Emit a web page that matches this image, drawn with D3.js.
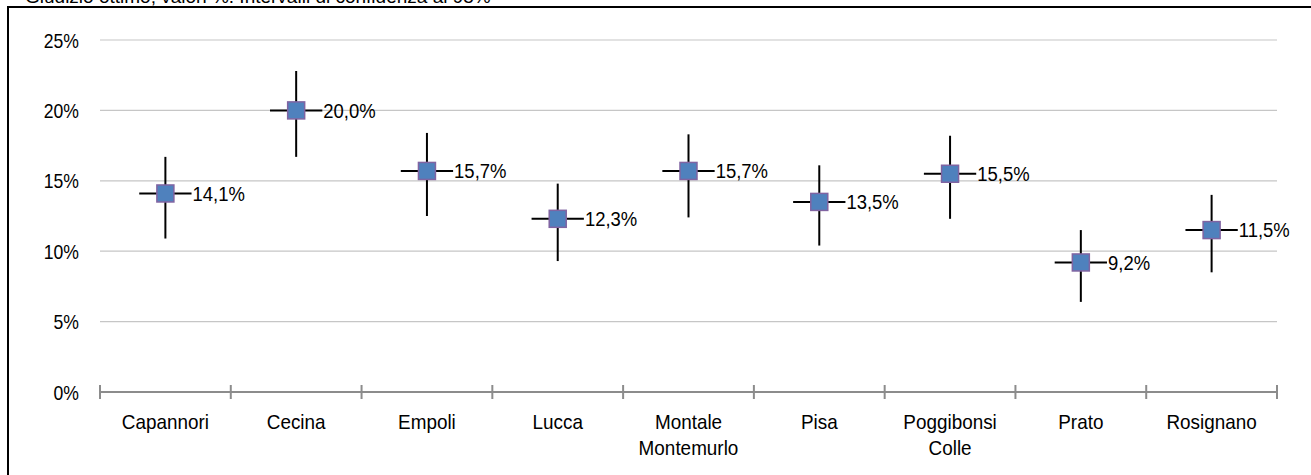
<!DOCTYPE html>
<html>
<head>
<meta charset="utf-8">
<script src="https://cdn.jsdelivr.net/npm/d3@7"></script>
<style>
  body { margin: 0; background: #fff; }
  svg { display: block; font-family: "Liberation Sans", Arial, sans-serif; }
</style>
</head>
<body>
<svg></svg>
<script>
const cities = ["Capannori", "Cecina", "Empoli", "Lucca", "Montale\nMontemurlo", "Pisa", "Poggibonsi\nColle", "Prato", "Rosignano"];
const values = [14.1, 20.0, 15.7, 12.3, 15.7, 13.5, 15.5, 9.2, 11.5];
const lower = [10.9, 16.7, 12.5, 9.3, 12.4, 10.4, 12.3, 6.4, 8.5];
const upper = [16.7, 22.8, 18.4, 14.8, 18.3, 16.1, 18.2, 11.5, 14.0];
const yTicks = [0, 5, 10, 15, 20, 25];
const title = "Giudizio ottimo; valori %. Intervalli di confidenza al 95%";

const width = 1311;
const height = 475;
const svg = d3.select("svg")
    .attr("width", width)
    .attr("height", height);

const margin = { top: 40, right: 34, bottom: 83, left: 100 };
const chartWidth = width - margin.left - margin.right;
const chartHeight = height - margin.top - margin.bottom;

const it = d3.formatLocale({ decimal: ",", thousands: ".", grouping: [3], currency: ["€", ""] });
const fmt = it.format(".1f");

// frame and (cut off) title
svg.append("text")
    .attr("x", 25)
    .attr("y", 3)
    .attr("font-size", 19)
    .text(title);

svg.append("rect")
    .attr("x", 8)
    .attr("y", 7)
    .attr("width", 1400)
    .attr("height", 600)
    .attr("fill", "none")
    .attr("stroke", "black")
    .attr("stroke-width", 2);

const g = svg.append("g")
    .attr("transform", `translate(${margin.left},${margin.top})`);

const x = d3.scaleBand()
    .domain(cities)
    .range([0, chartWidth])
    .padding(0);

const y = d3.scaleLinear()
    .domain([0, 25])
    .range([chartHeight, 0]);

// gridlines
g.selectAll("line.grid")
    .data(yTicks.filter(d => d > 0))
    .join("line")
    .attr("class", "grid")
    .attr("x1", 0)
    .attr("x2", chartWidth)
    .attr("y1", d => y(d))
    .attr("y2", d => y(d))
    .attr("stroke", "#c6c6c6")
    .attr("stroke-width", 1.2);

// y axis labels
const yAxis = g.append("g")
    .call(d3.axisLeft(y).tickValues(yTicks).tickFormat(d => d + "%").tickSize(0).tickPadding(0));
yAxis.select(".domain").remove();
yAxis.selectAll("text")
    .attr("x", null)
    .attr("dy", "0.35em")
    .attr("font-size", 20)
    .attr("font-family", "Liberation Sans, Arial, sans-serif")
    .attr("fill", "#000")
    .attr("transform", "translate(-21,0) scale(0.88,1)");

// x axis
const xAxisG = g.append("g")
    .attr("transform", `translate(0,${chartHeight})`);
xAxisG.append("line")
    .attr("x1", 0)
    .attr("x2", chartWidth)
    .attr("stroke", "#8c8c8c")
    .attr("stroke-width", 2);
const bounds = cities.map(c => x(c)).concat([chartWidth]);
xAxisG.selectAll("line.tick")
    .data(bounds)
    .join("line")
    .attr("class", "tick")
    .attr("x1", d => d)
    .attr("x2", d => d)
    .attr("y1", -7)
    .attr("y2", 7)
    .attr("stroke", "#8c8c8c")
    .attr("stroke-width", 2);

const catLabels = xAxisG.selectAll("g.cat")
    .data(cities)
    .join("g")
    .attr("class", "cat")
    .attr("transform", d => `translate(${x(d) + x.bandwidth() / 2},37) scale(0.9,1)`);
catLabels.each(function(d) {
    const lines = d.split("\n");
    d3.select(this).selectAll("text")
        .data(lines)
        .join("text")
        .attr("y", (l, i) => i * 26)
        .attr("text-anchor", "middle")
        .attr("font-size", 21)
        .text(l => l);
});

// error bars and markers
const cx = (d, i) => x(cities[i]) + x.bandwidth() / 2;
const armLen = x.bandwidth() * 0.2;

const pts = g.selectAll("g.pt")
    .data(values)
    .join("g")
    .attr("class", "pt");

pts.append("line")
    .attr("x1", (d, i) => cx(d, i))
    .attr("x2", (d, i) => cx(d, i))
    .attr("y1", (d, i) => y(upper[i]))
    .attr("y2", (d, i) => y(lower[i]))
    .attr("stroke", "black")
    .attr("stroke-width", 2);

pts.append("line")
    .attr("x1", (d, i) => cx(d, i) - armLen)
    .attr("x2", (d, i) => cx(d, i) + armLen)
    .attr("y1", d => y(d))
    .attr("y2", d => y(d))
    .attr("stroke", "black")
    .attr("stroke-width", 2);

const ms = 17;
pts.append("rect")
    .attr("x", (d, i) => cx(d, i) - ms / 2)
    .attr("y", d => y(d) - ms / 2)
    .attr("width", ms)
    .attr("height", ms)
    .attr("fill", "#4f81bd")
    .attr("stroke", "#8064a2")
    .attr("stroke-width", 1.5);

pts.append("text")
    .attr("transform", (d, i) => `translate(${cx(d, i) + armLen + 1},${y(d)}) scale(0.88,1)`)
    .attr("dy", "0.35em")
    .attr("font-size", 21)
    .text(d => fmt(d) + "%");
</script>
</body>
</html>
